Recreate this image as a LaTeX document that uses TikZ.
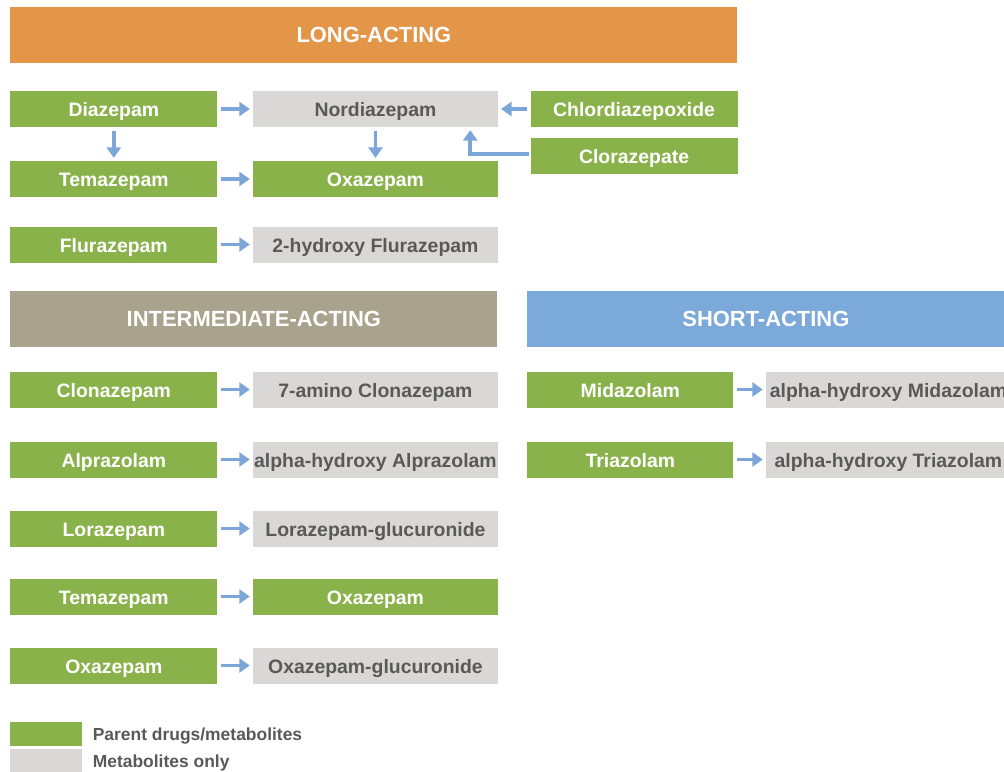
\documentclass[tikz,border=0pt]{standalone}
\usepackage{fontspec}
\setmainfont{Liberation Sans}
\usepackage{xcolor}
\usepackage{tikz}
\usetikzlibrary{arrows.meta, positioning, calc}
\definecolor{cDrug}{RGB}{138,178,75}
\definecolor{cMetab}{RGB}{217,216,214}
\definecolor{cLong}{RGB}{227,149,72}
\definecolor{cInter}{RGB}{169,163,141}
\definecolor{cShort}{RGB}{123,169,217}
\definecolor{cArrow}{RGB}{125,166,216}
\definecolor{cText}{RGB}{89,89,89}
\tikzset{
	drug/.style     ={rectangle, minimum width=5.175cm, minimum height=0.9cm, inner sep=0pt, text height=11pt, text depth=0pt, fill=cDrug, text=white, font=\bfseries\fontsize{13.8}{16}\selectfont},
	metab/.style    ={rectangle, minimum width=6.125cm, minimum height=0.9cm, inner sep=0pt, text height=11pt, text depth=0pt, fill=cMetab, text=cText, font=\bfseries\fontsize{13.8}{16}\selectfont},
	hdr/.style      ={rectangle, minimum height=1.4cm, inner sep=0pt, text=white, font=\bfseries\fontsize{15.6}{18}\selectfont},
	legbox/.style   ={rectangle, minimum width=1.8cm, minimum height=0.6cm, inner sep=0pt},
	legtext/.style  ={inner sep=0pt, text height=9.5pt, text depth=0pt, text=cText, font=\bfseries\fontsize{12.4}{14}\selectfont},
	flowarrow/.style={-{Triangle[length=7.5pt, width=10pt]}, line width=2.7pt, draw=cArrow, shorten <=2.5pt, shorten >=2pt},
}
\begin{document}
\begin{tikzpicture}[x=0.025cm, y=-0.025cm]
	\useasboundingbox (0,0) rectangle (1004,771);
	% long-acting
	\node[hdr, fill=cLong, minimum width=18.175cm, anchor=west] (long) at (10,35) {LONG-ACTING};
	\node[drug, anchor=west] (diaz) at (10,109) {Diazepam};
	\node[metab, right=0.875cm of diaz] (nord) {Nordiazepam};
	\node[drug, right=0.8cm of nord] (chlor) {Chlordiazepoxide};
	\node[drug, below=0.25cm of chlor] (cloraz) {Clorazepate};
	\node[drug, anchor=west] (tema) at (10,179) {Temazepam};
	\node[metab, right=0.875cm of tema, fill=cDrug, text=white] (oxa) {Oxazepam};
	\node[drug, anchor=west] (flura) at (10,244.5) {Flurazepam};
	\node[metab, right=0.875cm of flura] (hflura) {2-hydroxy Flurazepam};
	\draw[flowarrow] (diaz) -- (nord); \draw[flowarrow] (diaz) -- (tema); \draw[flowarrow] (nord) -- (oxa);
	\draw[flowarrow] (chlor) -- (nord); \draw[flowarrow] (tema) -- (oxa); \draw[flowarrow] (flura) -- (hflura);
	\draw[flowarrow, shorten <=1pt] ([yshift=1.2pt]cloraz.west) -| ([xshift=-0.7cm]nord.south east);
	% intermediate-acting
	\node[hdr, fill=cInter, minimum width=12.175cm, anchor=west] (inter) at (10,319) {INTERMEDIATE-ACTING};
	\node[drug, anchor=west] (clon) at (10,389.5) {Clonazepam};
	\node[metab, right=0.875cm of clon] (aclon) {7-amino Clonazepam};
	\node[drug, anchor=west] (alpra) at (10,459.5) {Alprazolam};
	\node[metab, right=0.875cm of alpra] (halpra) {alpha-hydroxy Alprazolam};
	\node[drug, anchor=west] (lora) at (10,528.5) {Lorazepam};
	\node[metab, right=0.875cm of lora] (glora) {Lorazepam-glucuronide};
	\node[drug, anchor=west] (temb) at (10,596.5) {Temazepam};
	\node[metab, right=0.875cm of temb, fill=cDrug, text=white] (oxb) {Oxazepam};
	\node[drug, anchor=west] (oxc) at (10,665.5) {Oxazepam};
	\node[metab, right=0.875cm of oxc] (goxc) {Oxazepam-glucuronide};
	\draw[flowarrow] (clon) -- (aclon); \draw[flowarrow] (alpra) -- (halpra); \draw[flowarrow] (lora) -- (glora);
	\draw[flowarrow] (temb) -- (oxb); \draw[flowarrow] (oxc) -- (goxc);
	% short-acting
	\node[hdr, fill=cShort, minimum width=11.925cm, anchor=west] (short) at (527,319) {SHORT-ACTING};
	\node[drug, anchor=west, minimum width=5.15cm] (mida) at (527,389.5) {Midazolam};
	\node[metab, right=0.8cm of mida] (hmida) {alpha-hydroxy Midazolam};
	\node[drug, anchor=west, minimum width=5.15cm] (tria) at (527,459.5) {Triazolam};
	\node[metab, right=0.8cm of tria] (htria) {alpha-hydroxy Triazolam};
	\draw[flowarrow] (mida) -- (hmida); \draw[flowarrow] (tria) -- (htria);
	% legend
	\node[legbox, fill=cDrug, anchor=north west] (legdrug) at (10,722) {};
	\node[legbox, fill=cMetab, below=0.05cm of legdrug] (legmetab) {};
	\node[legtext, right=0.25cm of legdrug] (legdrugtxt) {Parent drugs/metabolites};
	\node[legtext, right=0.25cm of legmetab] (legmetabtxt) {Metabolites only};
\end{tikzpicture}
\end{document}
